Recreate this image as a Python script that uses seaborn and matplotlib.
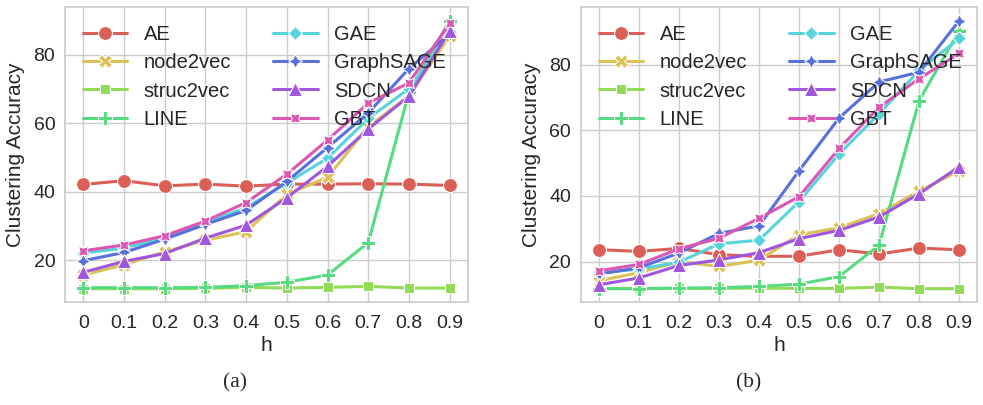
import matplotlib
matplotlib.use("Agg")
import matplotlib.pyplot as plt
import numpy as np
import pandas as pd
import seaborn as sns

# Homophily ratio on the x axis
h_values = [0, 0.1, 0.2, 0.3, 0.4, 0.5, 0.6, 0.7, 0.8, 0.9]
h_labels = ["0", "0.1", "0.2", "0.3", "0.4", "0.5", "0.6", "0.7", "0.8", "0.9"]
methods = ["AE", "node2vec", "struc2vec", "LINE", "GAE", "GraphSAGE", "SDCN", "GBT"]

# Clustering accuracy, dataset (a)
acc_a_ae = [42.1, 43.2, 41.7, 42.2, 41.6, 42.2, 42.2, 42.3, 42.2, 41.8]
acc_a_node2vec = [15.6, 18.6, 22.4, 25.8, 28.3, 39.2, 44.2, 59.0, 68.0, 85.6]
acc_a_struc2vec = [11.6, 11.6, 11.6, 11.7, 12.0, 11.8, 12.0, 12.3, 11.8, 11.8]
acc_a_line = [11.9, 11.9, 11.9, 12.0, 12.5, 13.5, 15.6, 25.1, 69.0, 90.0]
acc_a_gae = [22.0, 23.5, 26.4, 30.9, 35.3, 42.5, 49.8, 61.4, 70.1, 86.6]
acc_a_graphsage = [19.8, 22.2, 26.1, 30.4, 34.5, 43.0, 52.9, 63.0, 76.0, 86.1]
acc_a_sdcn = [16.4, 19.6, 21.9, 26.4, 30.2, 38.2, 47.4, 58.3, 67.9, 87.1]
acc_a_gbt = [22.7, 24.4, 27.1, 31.4, 36.8, 45.1, 55.1, 65.9, 71.8, 89.3]

# Clustering accuracy, dataset (b)
acc_b_ae = [23.6, 23.1, 24.0, 22.1, 21.6, 21.6, 23.6, 22.3, 24.1, 23.6]
acc_b_node2vec = [14.1, 16.6, 20.0, 18.5, 20.4, 28.2, 30.3, 34.6, 41.5, 47.7]
acc_b_struc2vec = [11.8, 11.8, 11.8, 11.8, 11.9, 11.8, 11.8, 12.2, 11.7, 11.7]
acc_b_line = [11.7, 11.7, 11.9, 12.0, 12.4, 13.1, 15.4, 25.0, 69.1, 90.4]
acc_b_gae = [16.5, 17.7, 19.8, 25.4, 26.5, 38.3, 52.8, 65.1, 78.3, 88.1]
acc_b_graphsage = [16.2, 18.1, 22.6, 28.6, 30.9, 47.7, 63.8, 74.8, 77.8, 93.5]
acc_b_sdcn = [12.9, 15.0, 18.8, 20.5, 22.7, 27.0, 29.5, 33.6, 40.7, 48.9]
acc_b_gbt = [17.2, 19.1, 23.9, 27.1, 33.2, 39.8, 54.5, 67.1, 75.8, 83.5]

panel_a = [acc_a_ae, acc_a_node2vec, acc_a_struc2vec, acc_a_line,
           acc_a_gae, acc_a_graphsage, acc_a_sdcn, acc_a_gbt]
panel_b = [acc_b_ae, acc_b_node2vec, acc_b_struc2vec, acc_b_line,
           acc_b_gae, acc_b_graphsage, acc_b_sdcn, acc_b_gbt]


def to_long(series_list):
    rows = []
    for name, vals in zip(methods, series_list):
        for h, v in zip(h_values, vals):
            rows.append({"h": h, "acc": v, "method": name})
    return pd.DataFrame(rows)


sns.set_theme(style="whitegrid")
plt.rcParams["font.family"] = ["Liberation Sans", "DejaVu Sans"]

fig = plt.figure(figsize=(9.83, 4.05), dpi=100)
ax_a = fig.add_axes([0.0661, 0.254, 0.410, 0.728])
ax_b = fig.add_axes([0.591, 0.254, 0.403, 0.728])

palette = sns.color_palette("hls", len(methods))

for ax, data, cap, cx in [(ax_a, panel_a, "(a)", 0.239),
                          (ax_b, panel_b, "(b)", 0.762)]:
    df = to_long(data)
    sns.lineplot(data=df, x="h", y="acc", hue="method", style="method",
                 hue_order=methods, style_order=methods, palette=palette,
                 markers=True, dashes=False, linewidth=2.2, markersize=10,
                 ax=ax)
    ax.set_xticks(h_values)
    ax.set_xticklabels(h_labels)
    ax.set_yticks([20, 40, 60, 80])
    ax.tick_params(axis="both", labelsize=14, length=0)
    ax.tick_params(axis="x", pad=9.5)
    ax.tick_params(axis="y", pad=7)
    ax.set_xlabel("h", fontsize=15, labelpad=3)
    ax.set_ylabel("Clustering Accuracy", fontsize=15, labelpad=6)
    ax.legend(loc="upper left", ncol=2, frameon=False, fontsize=14.5,
              handlelength=2.2, labelspacing=0.45, columnspacing=2.1,
              borderaxespad=0.5)
    fig.text(cx, 0.055, cap, ha="center", va="center", fontsize=15.5,
             family=["Liberation Serif", "DejaVu Serif"])

fig.savefig("out.png", dpi=100)
